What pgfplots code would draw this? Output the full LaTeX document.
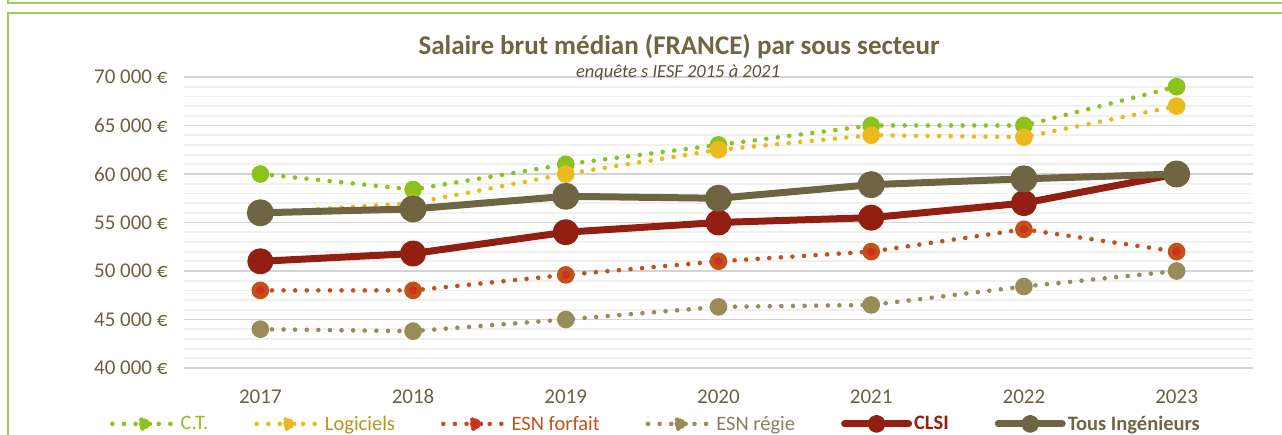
\documentclass[border=0pt]{standalone}
\usepackage{pgfplots}
\pgfplotsset{compat=1.18}
\usepackage{fontspec}
\setmainfont{Carlito}
\definecolor{ctc}{HTML}{8CC21C}
\definecolor{logc}{HTML}{EBBA1E}
\definecolor{esnfl}{HTML}{C2521A}
\definecolor{esnfm}{HTML}{D0301E}
\definecolor{esnrc}{HTML}{9A8C5A}
\definecolor{clsic}{HTML}{921F12}
\definecolor{tousc}{HTML}{6F6542}
\definecolor{textc}{HTML}{6B6142}
\definecolor{framec}{HTML}{9BD14E}
\definecolor{loglab}{HTML}{B8951A}
\definecolor{esnrlab}{HTML}{8A7F60}
\pgfplotsset{
  my legend/.style={legend image code/.code={\draw[##1] (0pt,0pt) -- (64pt,0pt); \fill[#1] (32pt,0pt) circle (5.5pt);}},
}
\begin{document}
\begin{tikzpicture}[x=1pt,y=1pt]
\useasboundingbox (0,0) rectangle (1282,-434);
\clip (0,0) rectangle (1282,-434);
\draw[framec, line width=2pt] (8,0) -- (8,-3) -- (1290,-3);
\draw[framec, line width=2pt] (1290,-13) -- (8,-13) -- (8,-450);
\begin{axis}[
  at={(184pt,-368pt)}, anchor=south west,
  width=1069pt, height=291pt, scale only axis,
  xmin=-0.5, xmax=6.5, ymin=40000, ymax=70000,
  scaled y ticks=false,
  clip=false,
  axis line style={draw=none},
  major tick length=0pt, minor tick length=0pt,
  xtick={0,1,2,3,4,5,6},
  xticklabels={2017,2018,2019,2020,2021,2022,2023},
  ytick={40000,45000,50000,55000,60000,65000,70000},
  yticklabels={40 000 €,45 000 €,50 000 €,55 000 €,60 000 €,65 000 €,70 000 €},
  minor y tick num=4,
  ymajorgrids, yminorgrids,
  major grid style={color=black!17, line width=1.8pt},
  minor grid style={color=black!6, line width=1.8pt},
  tick label style={font=\fontsize{21}{24}\selectfont, text=textc},
  yticklabel style={xshift=-13pt},
  xticklabel style={yshift=-18pt},
  legend columns=6,
  legend style={at={(0.4415,-0.192)}, anchor=center, draw=none, fill=none,
    font=\fontsize{20.5}{24}\selectfont, /tikz/every even column/.append style={column sep=44pt}},
  dotted series/.style={line width=4.6pt, line cap=round, dash pattern=on 0pt off 11.6pt,
     mark=*, mark size=6.5pt},
]
\addplot[dotted series, color=ctc, mark options={solid, fill=ctc, draw=none}, my legend=ctc]
  coordinates {(0,60000)(1,58400)(2,61000)(3,63000)(4,65000)(5,65000)(6,69000)};
\addlegendentry{\textcolor{ctc}{C.T.}}
\addplot[dotted series, color=logc, mark options={solid, fill=logc, draw=none}, my legend=logc]
  coordinates {(0,56000)(1,57000)(2,60000)(3,62500)(4,64000)(5,63800)(6,67000)};
\addlegendentry{\textcolor{loglab}{Logiciels}}
\addplot[dotted series, color=esnfl, mark options={solid, fill=esnfm, draw=none}, my legend=esnfm]
  coordinates {(0,48000)(1,48000)(2,49600)(3,51000)(4,52000)(5,54300)(6,52000)};
\addlegendentry{\textcolor{esnfl}{ESN forfait}}
\addplot[dotted series, color=esnrc, mark options={solid, fill=esnrc, draw=none}, my legend=esnrc]
  coordinates {(0,44000)(1,43800)(2,45000)(3,46300)(4,46500)(5,48400)(6,50000)};
\addlegendentry{\textcolor{esnrlab}{ESN régie}}
\addplot[color=clsic, line width=7pt, line cap=round, line join=round, mark=*, mark size=9.5pt, mark options={solid, fill=clsic, draw=none}, my legend=clsic]
  coordinates {(0,51000)(1,51800)(2,54000)(3,55000)(4,55500)(5,57000)(6,60000)};
\addlegendentry{\textcolor{clsic}{\bfseries CLSI}}
\addplot[color=tousc, line width=7pt, line cap=round, line join=round, mark=*, mark size=10pt, mark options={solid, fill=tousc, draw=none}, my legend=tousc]
  coordinates {(0,56000)(1,56400)(2,57700)(3,57500)(4,58900)(5,59500)(6,60000)};
\addlegendentry{\textcolor{tousc}{\bfseries Tous Ingénieurs}}
\end{axis}
\node[font=\bfseries\fontsize{27}{31}\selectfont, text=tousc] at (679,-47) {Salaire brut médian (FRANCE) par sous secteur};
\node[font=\itshape\fontsize{18.5}{21}\selectfont, text=textc!85!black] at (678,-73) {enquête s IESF 2015 à 2021};
\end{tikzpicture}
\end{document}
